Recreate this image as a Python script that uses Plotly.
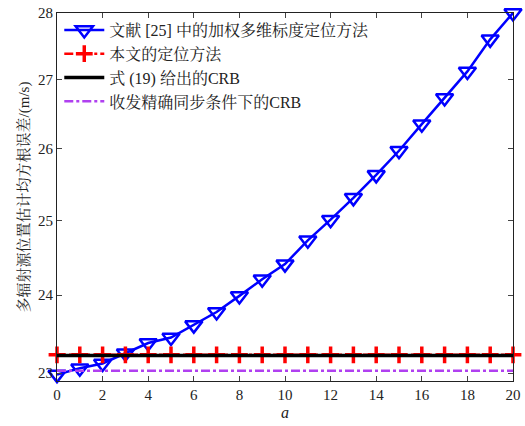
import plotly.graph_objects as go
import math

a_vals = list(range(21))
blue_vals = [22.98, 23.06, 23.12, 23.25, 23.38, 23.45, 23.61, 23.78, 23.99, 24.21,
             24.41, 24.73, 25.01, 25.31, 25.63, 25.97, 26.35, 26.73, 27.12, 27.60, 28.00]
red_vals = [23.23] * 21
black_vals = [23.22] * 21
purple_vals = [23.03] * 21

names = ["文献 [25] 中的加权多维标度定位方法", "本文的定位方法", "式 (19) 给出的CRB", "收发精确同步条件下的CRB"]
y_ticks = [23, 24, 25, 26, 27, 28]
x_ticks = list(range(0, 21, 2))

FONT = "Liberation Serif, Noto Serif CJK SC, Noto Sans CJK SC, serif"

fig = go.Figure()
fig.add_trace(go.Scatter(x=a_vals, y=blue_vals, name=names[0], mode="lines+markers",
                         line=dict(color="#0000ff", width=2.5),
                         marker=dict(symbol="triangle-down-open", size=15, color="#0000ff",
                                     line=dict(width=2.5, color="#0000ff")),
                         cliponaxis=False))
fig.add_trace(go.Scatter(x=a_vals, y=red_vals, name=names[1], mode="lines+markers",
                         line=dict(color="#ff0000", width=2.5, dash="dashdot"),
                         marker=dict(symbol="cross-thin-open", size=12,
                                     line=dict(width=3.5, color="#ff0000")),
                         cliponaxis=False))
fig.add_trace(go.Scatter(x=a_vals, y=black_vals, name=names[2], mode="lines",
                         line=dict(color="#000000", width=3.5)))
fig.add_trace(go.Scatter(x=a_vals, y=purple_vals, name=names[3], mode="lines",
                         line=dict(color="#b040f0", width=2.5, dash="dashdot")))

fig.update_layout(
    width=525, height=426,
    margin=dict(l=57, r=12, t=13, b=45),
    paper_bgcolor="white", plot_bgcolor="white",
    font=dict(family=FONT, size=15, color="#222222"),
    showlegend=True,
    legend=dict(x=0.005, y=1.0, xanchor="left", yanchor="top",
                bgcolor="rgba(255,255,255,0)", borderwidth=0,
                font=dict(family=FONT, size=16, color="#222222"),
                tracegroupgap=0, itemwidth=40),
    xaxis=dict(range=[0, 20], tickvals=x_ticks, ticks="inside", ticklen=5,
               showline=True, linecolor="#222222", linewidth=1, mirror="ticks",
               showgrid=False, zeroline=False, automargin=False,
               title=dict(text="<i>a</i>", font=dict(size=16), standoff=4),
               tickfont=dict(size=15)),
    yaxis=dict(type="log", range=[math.log10(22.9), math.log10(28)],
               tickvals=y_ticks, ticktext=[str(v) for v in y_ticks],
               ticks="inside", ticklen=5,
               showline=True, linecolor="#222222", linewidth=1, mirror="ticks",
               showgrid=False, zeroline=False, automargin=False,
               title=dict(text="多辐射源位置估计均方根误差/(m/s)", font=dict(size=15), standoff=4),
               tickfont=dict(size=15)),
)

fig.write_html("out.html")
